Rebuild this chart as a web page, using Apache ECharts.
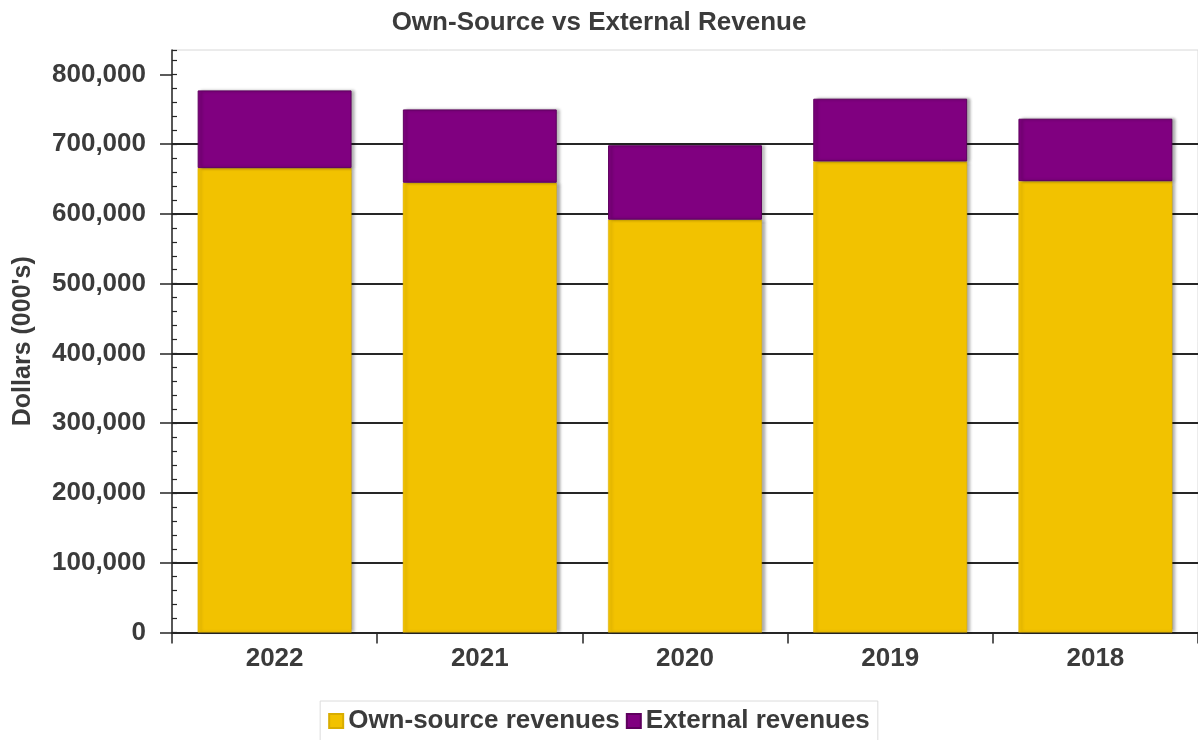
<!DOCTYPE html>
<html>
<head>
<meta charset="utf-8">
<title>Own-Source vs External Revenue</title>
<script src="https://cdn.jsdelivr.net/npm/echarts@6/dist/echarts.min.js"></script>
<style>
  html, body { margin: 0; padding: 0; background: #ffffff; }
  #chart { width: 1198px; height: 740px; }
</style>
</head>
<body>
<div id="chart"></div>
<script>
// Fiscal years, newest first
const years = ['2022', '2021', '2020', '2019', '2018'];

// Revenue in thousands of dollars
const ownSourceRevenues = [665700, 644700, 591700, 675300, 647000];
const externalRevenues  = [111400, 105100, 106800, 89900, 89500];

// Labelled ticks on the value axis
const yTickValues = [0, 100000, 200000, 300000, 400000, 500000, 600000, 700000, 800000];

const FONT = "'Liberation Sans', Arial, sans-serif";
const TEXT = '#3b3b3b';
const LINE = '#262626';

const fmt = v => v.toLocaleString('en-US');

const chart = echarts.init(document.getElementById('chart'), null, { renderer: 'canvas' });

chart.setOption({
  animation: false,
  backgroundColor: '#ffffff',
  title: {
    text: 'Own-Source vs External Revenue',
    left: 'center',
    top: 5,
    textStyle: { fontFamily: FONT, fontWeight: 'bold', fontSize: 26, color: TEXT }
  },
  legend: {
    bottom: -14,
    left: 'center',
    itemWidth: 14,
    itemHeight: 14,
    itemGap: 6,
    padding: [7, 8, 20, 8],
    borderColor: '#dcdcdc',
    borderWidth: 1,
    icon: 'rect',
    textStyle: { fontFamily: FONT, fontWeight: 'bold', fontSize: 26, color: TEXT },
    data: ['Own-source revenues', 'External revenues']
  },
  grid: {
    left: 172,
    right: -6,
    top: 50,
    bottom: 107.5,
    show: true,
    borderColor: '#d8d8d8',
    borderWidth: 1,
    backgroundColor: 'transparent'
  },
  xAxis: {
    type: 'category',
    data: years,
    boundaryGap: true,
    axisLine: { show: true, lineStyle: { color: LINE, width: 2 } },
    axisTick: { show: true, length: 11, alignWithLabel: false, lineStyle: { color: LINE, width: 1.5 } },
    axisLabel: {
      margin: 13,
      fontFamily: FONT, fontWeight: 'bold', fontSize: 26, color: TEXT
    },
    splitLine: { show: false }
  },
  yAxis: [
    {
      type: 'value',
      min: 0,
      max: 835000,
      interval: 100000,
      position: 'left',
      name: "Dollars (000's)",
      nameLocation: 'middle',
      nameGap: 136,
      nameTextStyle: { fontFamily: FONT, fontWeight: 'bold', fontSize: 25, color: TEXT },
      axisLine: { show: true, lineStyle: { color: LINE, width: 1.5 } },
      axisTick: {
        show: true, length: 12, inside: false,
        customValues: yTickValues,
        lineStyle: { color: LINE, width: 1.5 }
      },
      axisLabel: {
        margin: 26,
        customValues: yTickValues,
        formatter: fmt,
        fontFamily: FONT, fontWeight: 'bold', fontSize: 26, color: TEXT
      },
      splitLine: { show: true, showMaxLine: false, lineStyle: { color: LINE, width: 2 } }
    },
    {
      // minor ticks every 20,000, drawn inside the plot
      type: 'value',
      min: 0,
      max: 835000,
      interval: 20000,
      position: 'left',
      axisLine: { show: false },
      axisTick: { show: true, inside: true, length: 5, lineStyle: { color: LINE, width: 1.2 } },
      axisLabel: { show: false },
      splitLine: { show: false }
    }
  ],
  series: [
    {
      name: 'Own-source revenues',
      type: 'bar',
      stack: 'revenue',
      barWidth: '75%',
      data: ownSourceRevenues,
      itemStyle: {
        color: '#f2c200',
        borderColor: '#d9ad00',
        borderWidth: 0.5,
        shadowColor: 'rgba(0,0,0,0.35)',
        shadowBlur: 3,
        shadowOffsetX: 3
      }
    },
    {
      name: 'External revenues',
      type: 'bar',
      stack: 'revenue',
      barWidth: '75%',
      data: externalRevenues,
      itemStyle: {
        color: '#800080',
        borderColor: '#5e005e',
        borderWidth: 1,
        shadowColor: 'rgba(0,0,0,0.35)',
        shadowBlur: 3,
        shadowOffsetX: 3
      }
    }
  ]
});
</script>
</body>
</html>
